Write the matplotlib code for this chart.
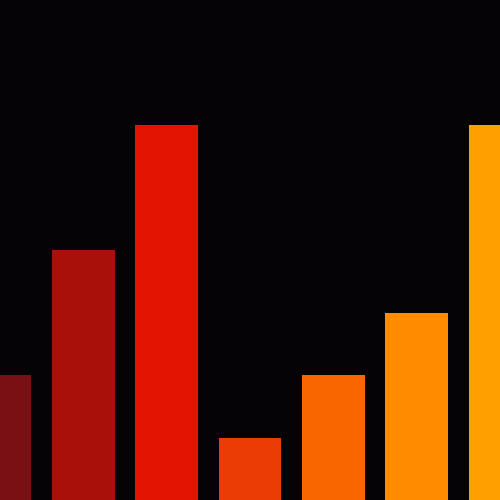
import matplotlib
matplotlib.use("Agg")
import matplotlib.pyplot as plt

# bar heights, left to right (first and last are clipped by the frame)
positions = [0, 1, 2, 3, 4, 5, 6]
values = [2, 4, 6, 1, 2, 3, 6]
colors = ["#7a0f14", "#a8100a", "#e31502", "#ec3c06", "#f96600", "#ff8b00", "#ffa000"]

BG = "#050305"

fig = plt.figure(figsize=(5, 5), dpi=100, facecolor=BG)
ax = fig.add_axes([0, 0, 1, 1], facecolor=BG)
ax.bar(positions, values, width=0.75, color=colors, linewidth=0)
ax.set_xlim(0, 6)
ax.set_ylim(0, 8)
ax.axis("off")

fig.savefig("out.png", dpi=100, facecolor=BG)
